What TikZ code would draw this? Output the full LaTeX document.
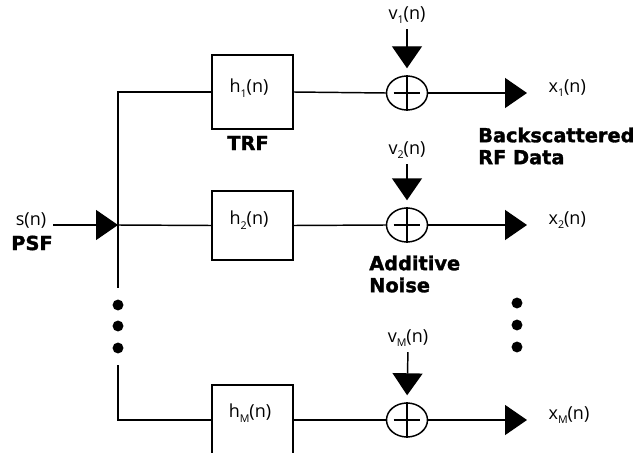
\documentclass[tikz,border=0pt]{standalone}
\usepackage{fontspec}
\setmainfont{Open Sans}
\newfontfamily\heavyfont{DejaVu Sans}[BoldFont={DejaVu Sans Bold},
  BoldFeatures={FakeBold=1.6}]
\usetikzlibrary{arrows.meta,shapes.geometric,positioning}

\tikzset{
  sig/.style={line width=1.1pt},
  tip/.style={sig, -{Triangle[length=16.5pt,width=22.5pt]}},
  filt/.style={draw, line width=1.1pt, minimum width=60.75pt, inner sep=0pt},
  summer/.style={draw, ellipse, line width=1.1pt, minimum width=30.75pt,
                 minimum height=25.5pt, inner sep=0pt},
  lbl/.style={font=\fontsize{13.5}{15}\selectfont, inner sep=1pt},
  tag/.style={font=\heavyfont\bfseries\fontsize{14.5}{16.5}\selectfont,
              inner sep=0pt, align=left}
}
\newcommand{\lowsub}[1]{\raisebox{-0.45ex}{\fontsize{8}{8}\selectfont #1}}

\begin{document}
\begin{tikzpicture}[x=0.75pt, y=-0.75pt]
  \useasboundingbox (0,0) rectangle (643,453);
  \clip (0,0) rectangle (643,453);

  %% Input signal
  \node[lbl] (sn) at (31,220) {s(n)};
  \node[tag] (psf) at (32,243) {PSF};
  \coordinate (sin) at (53,225);
  \coordinate (jn) at (118,225);
  \draw[tip] (sin) -- (jn);

  %% Filter blocks (TRF)
  \node[filt, minimum height=55.5pt] (f1) at (252.5,92) {};
  \node[filt, minimum height=51.75pt] (f2) at (252.5,225.5) {};
  \node[filt, minimum height=52.5pt] (fM) at (252.5,420) {};
  \node[lbl] at (249,88) {h\lowsub{1}(n)};
  \node[lbl] at (249,220) {h\lowsub{2}(n)};
  \node[lbl] at (250,413) {h\lowsub{M}(n)};
  \node[tag] (trf) at (248,143) {TRF};

  %% Distribution bus
  \coordinate (busA) at (118,288);
  \coordinate (busB) at (118,365);
  \draw[sig] (f1.west) -| (busA);
  \draw[sig] (jn) -- (f2.west);
  \draw[sig] (busB) |- (fM.west);
  \fill (118,305) circle[radius=4.1pt];
  \fill (118,326) circle[radius=4.1pt];
  \fill (118,348) circle[radius=4.1pt];

  %% Adders
  \node[summer] (s1) at (407,93) {};
  \node[summer] (s2) at (407,225) {};
  \node[summer] (sM) at (407,420) {};
  \foreach \s in {s1,s2,sM} {
    \draw[sig] (\s.north) -- (\s.south);
    \draw[sig] ([xshift=-10pt]\s.center) -- ([xshift=10pt]\s.center);
  }
  \draw[sig] (f1.east) -- (s1.west);
  \draw[sig] (f2.east) -- (s2.west);
  \draw[sig] (fM.east) -- (sM.west);

  %% Additive noise inputs
  \node[lbl] (v1) at (407,15) {v\lowsub{1}(n)};
  \node[lbl] (v2) at (407,150) {v\lowsub{2}(n)};
  \node[lbl] (vM) at (408,338) {v\lowsub{M}(n)};
  \draw[tip, shorten <=3pt, shorten >=5.25pt] (v1.south) -- (s1.north);
  \draw[tip, shorten <=3pt, shorten >=5.25pt] (v2.south) -- (s2.north);
  \draw[tip, shorten <=3pt, shorten >=5.25pt] (vM.south) -- (sM.north);
  \node[tag] (noise) at (369,274) [anchor=west] {Additive\\Noise};

  %% Outputs
  \coordinate (o1) at (527,93);
  \coordinate (o2) at (527,225);
  \coordinate (oM) at (527,420);
  \draw[tip] (s1.east) -- (o1);
  \draw[tip] (s2.east) -- (o2);
  \draw[tip] (sM.east) -- (oM);
  \node[lbl, anchor=west] (x1) at (547,88) {x\lowsub{1}(n)};
  \node[lbl, anchor=west] (x2) at (547,220) {x\lowsub{2}(n)};
  \node[lbl, anchor=west] (xM) at (547,415) {x\lowsub{M}(n)};
  \node[tag, anchor=west] (rf) at (478,146) {Backscattered\\RF Data};
  \fill (517,303) circle[radius=4.1pt];
  \fill (517,325) circle[radius=4.1pt];
  \fill (517,347) circle[radius=4.1pt];
\end{tikzpicture}
\end{document}
